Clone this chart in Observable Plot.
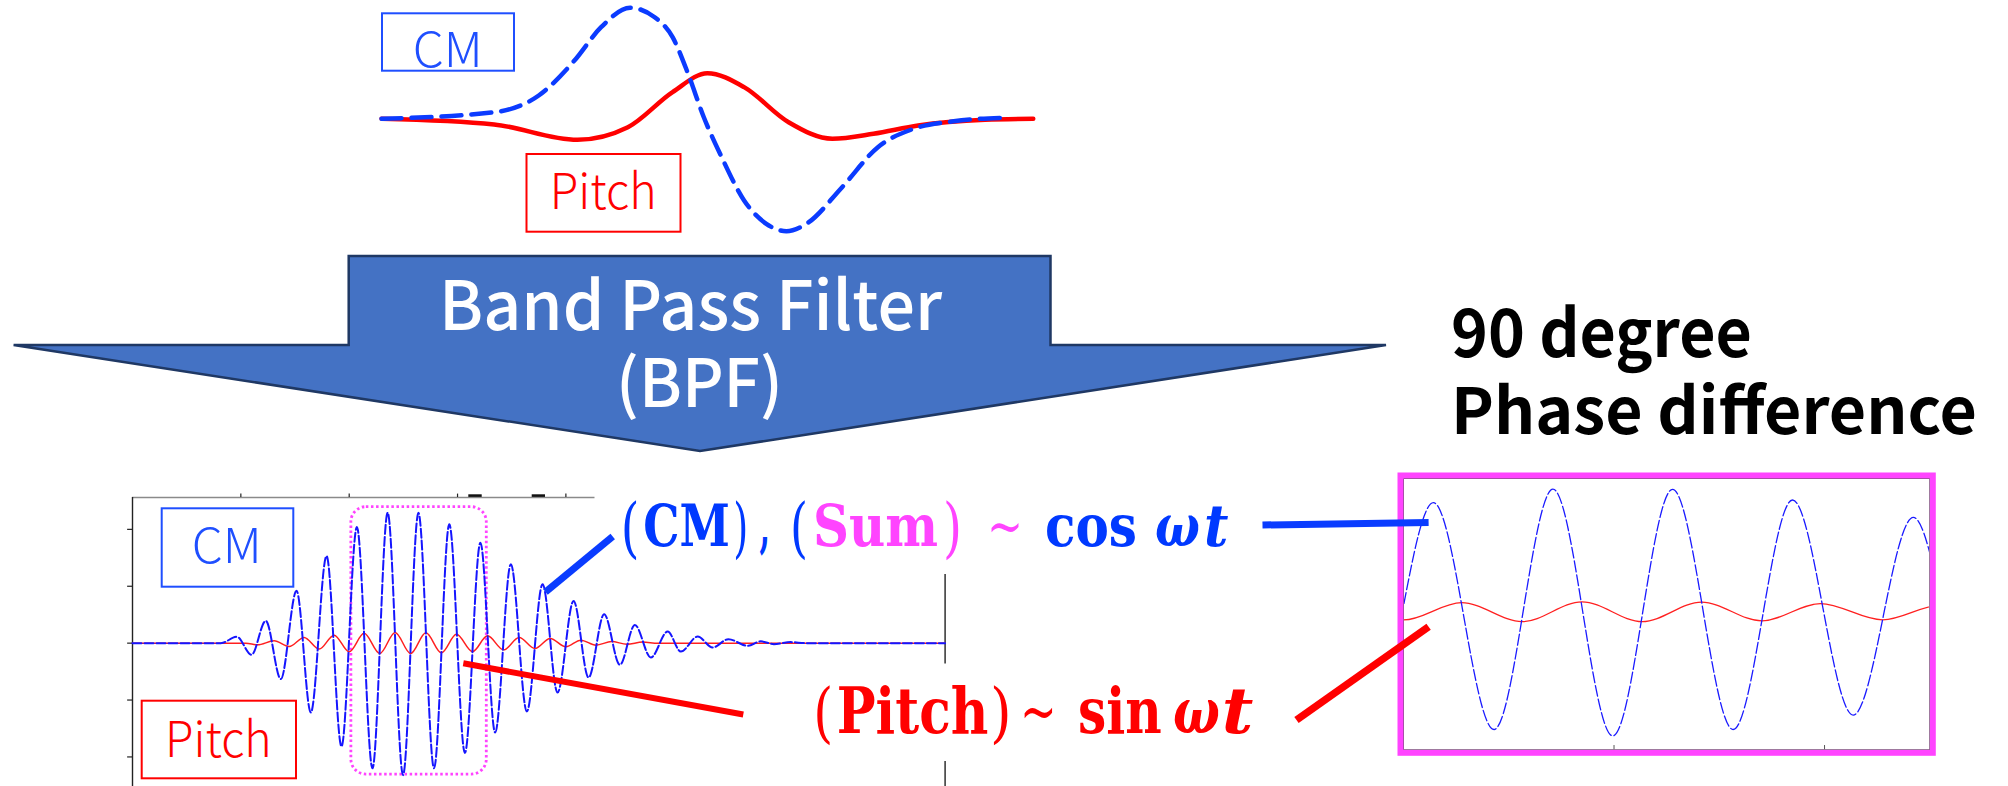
<!DOCTYPE html>
<html lang="en"><head><meta charset="utf-8"><title>BPF phase difference</title>
<script src="https://cdn.jsdelivr.net/npm/d3@7"></script>
<script src="https://cdn.jsdelivr.net/npm/@observablehq/plot@0.6"></script>
<style>
html,body{margin:0;padding:0;background:#fff;}
#stage{position:relative;width:2008px;height:786px;overflow:hidden;background:#fff;}
</style></head><body><div id="stage"></div>
<script>
// ---------------- data ----------------
// raw (unfiltered) signals, top sketch: [time, amplitude]
const rawCM = [[0,0],[1.728,0.059],[2.412,0.21],[2.96,0.525],[3.369,0.825],[3.814,1.0],[4.191,0.915],[4.466,0.735],[4.704,0.405],[4.945,0.014],[5.219,-0.346],[5.563,-0.736],[5.904,-0.946],[6.212,-1.013],[6.52,-0.946],[7.067,-0.616],[7.616,-0.256],[8.164,-0.09],[8.78,-0.022],[9.534,0.009]];
const rawPitch = [[0,0],[1.728,-0.051],[3.007,-0.189],[3.78,-0.076],[4.466,0.24],[5.0,0.411],[5.563,0.285],[6.246,-0.031],[6.918,-0.18],[7.548,-0.135],[8.233,-0.06],[9.261,-0.009],[10,0]];
// band-pass filtered signals (shared by the full view and the zoomed view)
const bpfCM = [[0,0],[0.815,0],[0.963,0.111],[1.098,-0.206],[1.23,0.392],[1.369,-0.632],[1.514,0.919],[1.646,-1.219],[1.791,1.533],[1.929,-1.816],[2.071,2.04],[2.215,-2.2],[2.355,2.293],[2.497,-2.32],[2.639,2.29],[2.783,-2.2],[2.924,2.09],[3.068,-1.93],[3.211,1.765],[3.347,-1.57],[3.492,1.388],[3.64,-1.201],[3.785,1.036],[3.923,-0.868],[4.071,0.743],[4.209,-0.604],[4.353,0.509],[4.498,-0.381],[4.637,0.321],[4.784,-0.253],[4.939,0.204],[5.061,-0.148],[5.216,0.116],[5.354,-0.077],[5.5,0.07],[5.677,-0.047],[5.8,0.032],[5.92,-0.018],[6.077,0.018],[6.215,0],[7.5,0]];
const bpfPitch = [[0,0],[1.046,0],[1.154,-0.03],[1.307,0.04],[1.446,-0.06],[1.584,0.098],[1.723,-0.105],[1.861,0.141],[2.0,-0.152],[2.138,0.172],[2.282,-0.183],[2.424,0.187],[2.567,-0.183],[2.708,0.182],[2.851,-0.17],[2.99,0.155],[3.138,-0.149],[3.277,0.128],[3.425,-0.118],[3.569,0.098],[3.714,-0.095],[3.855,0.081],[4.0,-0.065],[4.138,0.053],[4.277,-0.035],[4.422,0.028],[4.563,-0.018],[4.708,0.018],[4.85,0],[7.5,0]];
const bpfXTicks = [1,2,3,4,5,6,7];
const bpfYTicks = [-2,-1,0,1,2];
const zoomXTicks = [2.5,3];
const zoomWindow = [{x1:2.02,x2:3.27,y1:-2.31,y2:2.39}];
const zoomDomain = [2.0,3.25];
// texts
const labelCM = "CM", labelPitch = "Pitch";
const arrowLines = ["Band Pass Filter","(BPF)"];
const phaseLines = ["90 degree","Phase difference"];
const cosParts = ["(","CM",")",",","(","Sum",")","~","cos","ω","t"];
const sinParts = ["(","Pitch",")","~","sin","ω","t"];

// ---------------- layout helpers ----------------
const stage = document.getElementById("stage");
function panel({left, top, width, height, m = 0, xDomain, yDomain, marks, overflow = "visible"}) {
  const svg = Plot.plot({
    width: width + 2*m, height: height + 2*m,
    marginLeft: m, marginRight: m, marginTop: m, marginBottom: m,
    x: {domain: xDomain, axis: null},
    y: {domain: yDomain, axis: null},
    marks
  });
  svg.style.position = "absolute";
  svg.style.left = (left - m) + "px";
  svg.style.top = (top - m) + "px";
  svg.style.background = "transparent";
  svg.style.overflow = overflow;
  svg.style.maxWidth = "none";
  stage.appendChild(svg);
  return svg;
}
const X = d => d[0], Y = d => d[1];

// ---------------- top sketch (raw signals) ----------------
panel({left: 381.4, top: 0, width: 651.8, height: 240,
  xDomain: [0,10], yDomain: [-1.0964,1.0658],
  marks: [
    Plot.line(rawPitch, {x: X, y: Y, curve: "monotone-x", stroke: "#ff0000", strokeWidth: 4.5}),
    Plot.line(rawCM, {x: X, y: Y, curve: "monotone-x", stroke: "#0b3bff", strokeWidth: 4.5, strokeDasharray: "20,10"})
  ]});

// ---------------- BPF output, full view ----------------
const bTop = 2.56, bBot = -2.56;
panel({left: 131.7, top: 496.7, width: 812.6, height: 291.3, m: 10,
  xDomain: [0,7.5], yDomain: [bBot,bTop],
  marks: [
    Plot.rect(zoomWindow, {x1: "x1", x2: "x2", y1: "y1", y2: "y2", rx: 15, fill: "none", stroke: "#ff44ff", strokeWidth: 2.8, strokeDasharray: "2.5,2.6"}),
    Plot.ruleY([bTop], {stroke: "#8a8a8a", strokeWidth: 1.6}),
    Plot.ruleX([0], {stroke: "#222", strokeWidth: 1.4}),
    Plot.ruleX([7.5], {stroke: "#222", strokeWidth: 1.4}),
    Plot.ruleX(bpfXTicks, {x: d => d, y1: bTop, y2: bTop + 0.06, stroke: "#222", strokeWidth: 1.2}),
    Plot.ruleY(bpfYTicks, {y: d => d, x1: -0.045, x2: 0, stroke: "#222", strokeWidth: 1.2}),
    Plot.line(bpfPitch, {x: X, y: Y, curve: "monotone-x", stroke: "#ff1f1f", strokeWidth: 1.5}),
    Plot.line(bpfCM, {x: X, y: Y, curve: "monotone-x", stroke: "#1515ff", strokeWidth: 2, strokeDasharray: "9,3"})
  ]});

// ---------------- BPF output, zoomed view ----------------
const zBot = -2.579, zTop = 2.492;
panel({left: 1402.7, top: 477.7, width: 526.3, height: 271.3, overflow: "hidden",
  xDomain: zoomDomain, yDomain: [zBot,zTop],
  marks: [
    Plot.line(bpfPitch, {x: X, y: Y, curve: "monotone-x", stroke: "#ff2020", strokeWidth: 1.3}),
    Plot.line(bpfCM, {x: X, y: Y, curve: "monotone-x", stroke: "#1a1aff", strokeWidth: 1.3, strokeDasharray: "11,3"})
  ]});
panel({left: 1402.7, top: 477.7, width: 526.3, height: 271.3, m: 10,
  xDomain: zoomDomain, yDomain: [zBot,zTop],
  marks: [
    Plot.frame({stroke: "#555", strokeWidth: 1}),
    Plot.ruleX(zoomXTicks, {x: d => d, y1: zBot, y2: zBot + 0.08, stroke: "#555"}),
    Plot.frame({stroke: "#ff44ff", strokeWidth: 6, inset: -3})
  ]});

// ---------------- annotation layer ----------------
const ov = d3.select(stage).append("svg")
  .attr("width", 2008).attr("height", 786)
  .style("position", "absolute").style("left", "0px").style("top", "0px");
const SANS = "'Noto Sans CJK JP', 'Noto Sans', sans-serif";
const SERIF = "'DejaVu Serif', 'Liberation Serif', serif";

function txt(s, o) {
  const t = ov.append("text").attr("x", o.x).attr("y", o.y)
    .attr("font-family", o.family || SANS)
    .attr("font-size", o.size).attr("font-weight", o.weight || 400)
    .attr("font-style", o.style || "normal")
    .attr("fill", o.fill || "#000").text(s);
  if (o.len) t.attr("textLength", o.len).attr("lengthAdjust", "spacingAndGlyphs");
  return t;
}

// big arrow
ov.append("polygon")
  .attr("points", "348.7,256 1050.5,256 1050.5,345 1386,345 700,451 13.6,345 348.7,345")
  .attr("fill", "#4472c4").attr("stroke", "#1f3864").attr("stroke-width", 2.5).attr("stroke-linejoin", "miter");
txt(arrowLines[0], {x: 439, y: 330, size: 68, weight: 500, fill: "#fff", len: 503});
txt(arrowLines[1], {x: 616, y: 407, size: 66, weight: 500, fill: "#fff", len: 167});

// label boxes
function box(x, y, w, h, stroke) {
  ov.append("rect").attr("x", x).attr("y", y).attr("width", w).attr("height", h)
    .attr("fill", "#fff").attr("stroke", stroke).attr("stroke-width", 2);
}
box(382, 13.3, 132, 57.4, "#1f4fff");
txt(labelCM, {x: 412.7, y: 66.7, size: 48, weight: 300, fill: "#1f4fff", len: 70});
box(526.5, 154, 154, 77.7, "#ff0000");
txt(labelPitch, {x: 549.7, y: 209.3, size: 49, weight: 300, fill: "#ff0000", len: 107});
box(161.7, 508.3, 131.6, 78.4, "#1f4fff");
txt(labelCM, {x: 191.7, y: 563.3, size: 48, weight: 300, fill: "#1f4fff", len: 70});
box(141.7, 700.7, 154.3, 77.6, "#ff0000");
txt(labelPitch, {x: 165, y: 756.7, size: 49, weight: 300, fill: "#ff0000", len: 106.7});

// small dark marks above the full-view frame
ov.append("rect").attr("x", 468.3).attr("y", 494.3).attr("width", 13.4).attr("height", 2.6).attr("fill", "#111");
ov.append("rect").attr("x", 531.7).attr("y", 494.3).attr("width", 13.3).attr("height", 2.6).attr("fill", "#111");

// white backgrounds of the formula text boxes
ov.append("rect").attr("x", 594.5).attr("y", 486).attr("width", 655).attr("height", 88).attr("fill", "#fff");
ov.append("rect").attr("x", 745).attr("y", 663.5).attr("width", 545).attr("height", 97.5).attr("fill", "#fff");

// formulas: one text element per line, one tspan per piece
const BLUE = "#0039ff", MAG = "#ff44ff", RED = "#ff0000";
function formula(parts, specs, base, parenBase, size, parenSize, color) {
  const t = ov.append("text").attr("font-family", SERIF).attr("y", base);
  specs.forEach((o, i) => {
    t.append("tspan").attr("x", o.x)
      .attr("y", o.paren ? parenBase : base)
      .attr("font-size", o.paren ? parenSize : size)
      .attr("font-weight", (o.paren || o.thin) ? 400 : 700)
      .attr("font-style", o.it ? "italic" : "normal")
      .attr("fill", o.fill || color)
      .attr("textLength", o.len).attr("lengthAdjust", "spacingAndGlyphs")
      .text(parts[i]);
  });
}
formula(cosParts, [
  {x: 620.7, len: 18.7, paren: true},
  {x: 643.3, len: 86.7},
  {x: 733.3, len: 15, paren: true},
  {x: 759.5, len: 10.5},
  {x: 790, len: 18, paren: true},
  {x: 813, len: 125, fill: MAG},
  {x: 943, len: 19, fill: MAG, paren: true},
  {x: 987, len: 36, fill: MAG, thin: true},
  {x: 1045, len: 92},
  {x: 1155, len: 45, it: true},
  {x: 1204, len: 24.5, it: true}
], 545.5, 550, 57, 66, BLUE);
formula(sinParts, [
  {x: 813.3, len: 20, paren: true},
  {x: 836.7, len: 151.6},
  {x: 990, len: 21.7, paren: true},
  {x: 1020, len: 36.7, thin: true},
  {x: 1078, len: 83.7},
  {x: 1173, len: 47, it: true},
  {x: 1221.7, len: 31.6, it: true}
], 733, 735, 63, 66, RED);

// 90 degree phase difference
txt(phaseLines[0], {x: 1451, y: 357, size: 66, weight: 700, fill: "#000", len: 301});
txt(phaseLines[1], {x: 1451, y: 434, size: 64, weight: 700, fill: "#000", len: 526});

// connector lines
function seg(x1, y1, x2, y2, color, w) {
  ov.append("line").attr("x1", x1).attr("y1", y1).attr("x2", x2).attr("y2", y2)
    .attr("stroke", color).attr("stroke-width", w);
}
seg(545.5, 592, 612.7, 536.5, "#0a3cff", 7);
seg(1262.5, 525, 1428.6, 522.5, "#0a3cff", 7);
seg(463.3, 663.3, 743.3, 714.5, "#ff0000", 6);
seg(1296.5, 720, 1428.6, 626.7, "#ff0000", 7.5);
</script></body></html>
